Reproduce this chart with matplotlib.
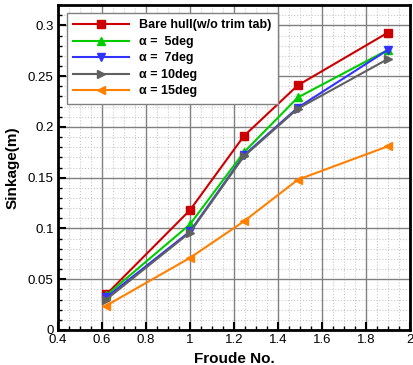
import matplotlib
matplotlib.use('Agg')
import matplotlib.pyplot as plt
from matplotlib.ticker import MultipleLocator

plt.rcParams['font.family'] = ['Liberation Sans', 'DejaVu Sans']

froude = [0.62, 1.0, 1.245, 1.49, 1.9]
bare_hull = [0.035, 0.118, 0.191, 0.241, 0.293]
alpha5 = [0.034, 0.104, 0.175, 0.229, 0.276]
alpha7 = [0.032, 0.097, 0.172, 0.219, 0.276]
alpha10 = [0.030, 0.096, 0.171, 0.218, 0.267]
alpha15 = [0.024, 0.071, 0.107, 0.148, 0.181]

labels = ['Bare hull(w/o trim tab)', 'α =  5deg', 'α =  7deg',
          'α = 10deg', 'α = 15deg']
colors = ['#cc0000', '#00cc00', '#3333ff', '#606060', '#ff8000']
markers = ['s', '^', 'v', '>', '<']

fig = plt.figure(figsize=(4.13, 3.65), dpi=100)
ax = fig.add_axes([0.140, 0.096, 0.853, 0.890])

series = [bare_hull, alpha5, alpha7, alpha10, alpha15]
for ys, lab, c, m in zip(series, labels, colors, markers):
    ax.plot(froude, ys, color=c, marker=m, markersize=6, linewidth=1.5, label=lab)

ax.set_xlim(0.4, 2.0)
ax.set_ylim(0, 0.32)
ax.xaxis.set_minor_locator(MultipleLocator(0.05))
ax.yaxis.set_minor_locator(MultipleLocator(0.01))
ax.set_xticks([0.4, 0.6, 0.8, 1.0, 1.2, 1.4, 1.6, 1.8, 2.0])
ax.set_xticklabels(['0.4', '0.6', '0.8', '1', '1.2', '1.4', '1.6', '1.8', '2'])
ax.set_yticks([0, 0.05, 0.1, 0.15, 0.2, 0.25, 0.3])
ax.set_yticklabels(['0', '0.05', '0.1', '0.15', '0.2', '0.25', '0.3'])

ax.grid(which='major', color='#808080', linewidth=1.0, linestyle='-')
ax.grid(which='minor', color='#c8c8c8', linewidth=0.8, linestyle=':')
ax.set_axisbelow(True)

ax.tick_params(which='major', direction='in', length=6, width=1.5, labelsize=9.5, pad=3)
ax.tick_params(which='minor', direction='in', length=3, width=1)
for sp in ax.spines.values():
    sp.set_linewidth(2)

ax.set_xlabel('Froude No.', fontsize=11, fontweight='bold', labelpad=4)
ax.set_ylabel('Sinkage(m)', fontsize=11, fontweight='bold', labelpad=6)

leg = ax.legend(loc='upper left', bbox_to_anchor=(0.025, 0.975), borderaxespad=0,
                fancybox=False, framealpha=1, edgecolor='#808080',
                handlelength=4.5, prop={'weight': 'bold', 'size': 9},
                borderpad=0.5, labelspacing=0.36, handletextpad=0.8)
leg.get_frame().set_linewidth(1)

fig.savefig('out.png', dpi=100)
